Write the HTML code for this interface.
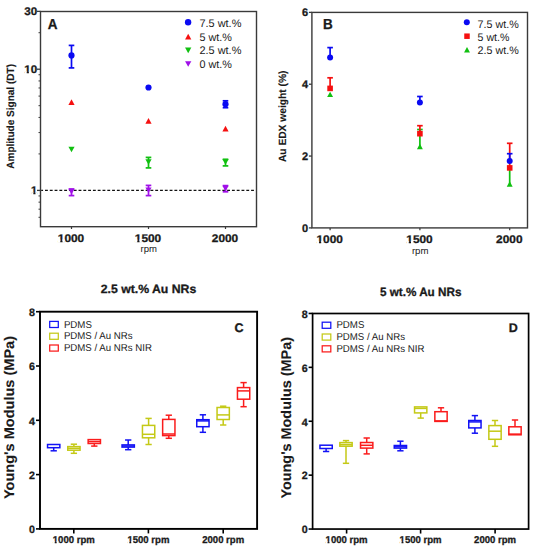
<!DOCTYPE html>
<html><head><meta charset="utf-8"><style>
html,body{margin:0;padding:0;background:#fff;}
svg{display:block;}
text{font-family:"Liberation Sans", sans-serif;text-rendering:geometricPrecision;}
</style></head><body>
<svg width="535" height="550" viewBox="0 0 535 550">
<rect width="535" height="550" fill="#fff"/>
<rect x="40.5" y="11.5" width="216.0" height="215.2" fill="none" stroke="#3a3a3a" stroke-width="1.4"/>
<line x1="37.0" y1="11.372903927976921" x2="40.5" y2="11.372903927976921" stroke="#3a3a3a" stroke-width="1.3" />
<text x="37.2" y="15.372903927976921" font-size="11" font-weight="bold" text-anchor="end" fill="#1a1a1a"  stroke="#1a1a1a" stroke-width="0.3" textLength="12.9" lengthAdjust="spacingAndGlyphs">30</text>
<line x1="37.0" y1="69.2" x2="40.5" y2="69.2" stroke="#3a3a3a" stroke-width="1.3" />
<text x="37.2" y="73.2" font-size="11" font-weight="bold" text-anchor="end" fill="#1a1a1a"  stroke="#1a1a1a" stroke-width="0.3" textLength="12.9" lengthAdjust="spacingAndGlyphs">10</text>
<line x1="37.0" y1="190.4" x2="40.5" y2="190.4" stroke="#3a3a3a" stroke-width="1.3" />
<text x="37.2" y="194.4" font-size="11" font-weight="bold" text-anchor="end" fill="#1a1a1a"  stroke="#1a1a1a" stroke-width="0.3">1</text>
<line x1="38.5" y1="217.2880684535024" x2="40.5" y2="217.2880684535024" stroke="#3a3a3a" stroke-width="1.0" />
<line x1="38.5" y1="209.1741175502721" x2="40.5" y2="209.1741175502721" stroke="#3a3a3a" stroke-width="1.0" />
<line x1="38.5" y1="202.14549357657643" x2="40.5" y2="202.14549357657643" stroke="#3a3a3a" stroke-width="1.0" />
<line x1="38.5" y1="195.94580785595383" x2="40.5" y2="195.94580785595383" stroke="#3a3a3a" stroke-width="1.0" />
<line x1="38.5" y1="153.91516452552548" x2="40.5" y2="153.91516452552548" stroke="#3a3a3a" stroke-width="1.0" />
<line x1="38.5" y1="132.5729039279769" x2="40.5" y2="132.5729039279769" stroke="#3a3a3a" stroke-width="1.0" />
<line x1="38.5" y1="117.43032905105096" x2="40.5" y2="117.43032905105096" stroke="#3a3a3a" stroke-width="1.0" />
<line x1="38.5" y1="105.68483547447453" x2="40.5" y2="105.68483547447453" stroke="#3a3a3a" stroke-width="1.0" />
<line x1="38.5" y1="96.0880684535024" x2="40.5" y2="96.0880684535024" stroke="#3a3a3a" stroke-width="1.0" />
<line x1="38.5" y1="87.97411755027208" x2="40.5" y2="87.97411755027208" stroke="#3a3a3a" stroke-width="1.0" />
<line x1="38.5" y1="80.94549357657645" x2="40.5" y2="80.94549357657645" stroke="#3a3a3a" stroke-width="1.0" />
<line x1="38.5" y1="74.74580785595383" x2="40.5" y2="74.74580785595383" stroke="#3a3a3a" stroke-width="1.0" />
<line x1="38.5" y1="32.715164525525466" x2="40.5" y2="32.715164525525466" stroke="#3a3a3a" stroke-width="1.0" />
<line x1="41.2" y1="190.4" x2="255.8" y2="190.4" stroke="#111" stroke-width="1.3" stroke-dasharray="2.85 1.943" stroke-dashoffset="0.99"/>
<line x1="71.5" y1="226.7" x2="71.5" y2="229.0" stroke="#3a3a3a" stroke-width="1.2" />
<text x="71.0" y="241.5" font-size="11" font-weight="bold" text-anchor="middle" fill="#1a1a1a"  stroke="#1a1a1a" stroke-width="0.3" textLength="26.4" lengthAdjust="spacingAndGlyphs">1000</text>
<line x1="148.5" y1="226.7" x2="148.5" y2="229.0" stroke="#3a3a3a" stroke-width="1.2" />
<text x="148.0" y="241.5" font-size="11" font-weight="bold" text-anchor="middle" fill="#1a1a1a"  stroke="#1a1a1a" stroke-width="0.3" textLength="26.4" lengthAdjust="spacingAndGlyphs">1500</text>
<line x1="225.5" y1="226.7" x2="225.5" y2="229.0" stroke="#3a3a3a" stroke-width="1.2" />
<text x="225.0" y="241.5" font-size="11" font-weight="bold" text-anchor="middle" fill="#1a1a1a"  stroke="#1a1a1a" stroke-width="0.3" textLength="26.4" lengthAdjust="spacingAndGlyphs">2000</text>
<text x="148.7" y="251.9" font-size="9.5" font-weight="normal" text-anchor="middle" fill="#222"  textLength="16.4" lengthAdjust="spacingAndGlyphs">rpm</text>
<text x="0" y="0" font-size="10.5" font-weight="bold" text-anchor="middle" fill="#1a1a1a" transform="translate(14.0,116.4) rotate(-90)" stroke="#1a1a1a" stroke-width="0.12" textLength="104.8" lengthAdjust="spacingAndGlyphs">Amplitude Signal (DT)</text>
<text x="47.8" y="29.1" font-size="14.5" font-weight="bold" text-anchor="start" fill="#1a1a1a"  stroke="#1a1a1a" stroke-width="0.3" textLength="9.75" lengthAdjust="spacingAndGlyphs">A</text>
<line x1="71.5" y1="189.0" x2="71.5" y2="195.6" stroke="#a010e8" stroke-width="1.7" />
<line x1="68.7" y1="189.0" x2="74.3" y2="189.0" stroke="#a010e8" stroke-width="1.7" />
<line x1="68.7" y1="195.6" x2="74.3" y2="195.6" stroke="#a010e8" stroke-width="1.7" />
<polygon points="68.4,188.81 74.6,188.81 71.5,194.39" fill="#a010e8"/>
<line x1="148.5" y1="185.4" x2="148.5" y2="195.6" stroke="#a010e8" stroke-width="1.7" />
<line x1="145.7" y1="185.4" x2="151.3" y2="185.4" stroke="#a010e8" stroke-width="1.7" />
<line x1="145.7" y1="195.6" x2="151.3" y2="195.6" stroke="#a010e8" stroke-width="1.7" />
<polygon points="145.4,187.41 151.6,187.41 148.5,192.98999999999998" fill="#a010e8"/>
<line x1="225.5" y1="185.6" x2="225.5" y2="191.8" stroke="#a010e8" stroke-width="1.7" />
<line x1="222.7" y1="185.6" x2="228.3" y2="185.6" stroke="#a010e8" stroke-width="1.7" />
<line x1="222.7" y1="191.8" x2="228.3" y2="191.8" stroke="#a010e8" stroke-width="1.7" />
<polygon points="222.4,185.81 228.6,185.81 225.5,191.39" fill="#a010e8"/>
<polygon points="68.4,146.71 74.6,146.71 71.5,152.29" fill="#10c010"/>
<line x1="148.5" y1="157.4" x2="148.5" y2="167.9" stroke="#10c010" stroke-width="1.7" />
<line x1="145.7" y1="157.4" x2="151.3" y2="157.4" stroke="#10c010" stroke-width="1.7" />
<line x1="145.7" y1="167.9" x2="151.3" y2="167.9" stroke="#10c010" stroke-width="1.7" />
<polygon points="145.4,159.21 151.6,159.21 148.5,164.79" fill="#10c010"/>
<line x1="225.5" y1="159.3" x2="225.5" y2="165.9" stroke="#10c010" stroke-width="1.7" />
<line x1="222.7" y1="159.3" x2="228.3" y2="159.3" stroke="#10c010" stroke-width="1.7" />
<line x1="222.7" y1="165.9" x2="228.3" y2="165.9" stroke="#10c010" stroke-width="1.7" />
<polygon points="222.4,159.21 228.6,159.21 225.5,164.79" fill="#10c010"/>
<polygon points="68.4,105.052 74.6,105.052 71.5,99.348" fill="#f51010"/>
<polygon points="145.4,123.75200000000001 151.6,123.75200000000001 148.5,118.048" fill="#f51010"/>
<polygon points="222.4,131.552 228.6,131.552 225.5,125.84799999999998" fill="#f51010"/>
<line x1="71.5" y1="45.4" x2="71.5" y2="67.9" stroke="#0a0af2" stroke-width="1.7" />
<line x1="68.7" y1="45.4" x2="74.3" y2="45.4" stroke="#0a0af2" stroke-width="1.7" />
<line x1="68.7" y1="67.9" x2="74.3" y2="67.9" stroke="#0a0af2" stroke-width="1.7" />
<circle cx="71.5" cy="55.4" r="3.1" fill="#0a0af2"/>
<circle cx="148.5" cy="87.5" r="3.1" fill="#0a0af2"/>
<line x1="225.5" y1="100.8" x2="225.5" y2="107.7" stroke="#0a0af2" stroke-width="1.7" />
<line x1="222.7" y1="100.8" x2="228.3" y2="100.8" stroke="#0a0af2" stroke-width="1.7" />
<line x1="222.7" y1="107.7" x2="228.3" y2="107.7" stroke="#0a0af2" stroke-width="1.7" />
<circle cx="225.5" cy="104.2" r="3.1" fill="#0a0af2"/>
<circle cx="188.1" cy="22.2" r="3.2" fill="#0a0af2"/>
<polygon points="185.04999999999998,39.498000000000005 191.35,39.498000000000005 188.2,33.702" fill="#f51010"/>
<polygon points="185.04999999999998,47.464999999999996 191.35,47.464999999999996 188.2,53.135" fill="#10c010"/>
<polygon points="185.04999999999998,61.165 191.35,61.165 188.2,66.835" fill="#a010e8"/>
<text x="199.4" y="27.3" font-size="11" font-weight="normal" text-anchor="start" fill="#1a1a1a"  textLength="42.0" lengthAdjust="spacingAndGlyphs">7.5 wt.%</text>
<text x="199.4" y="40.8" font-size="11" font-weight="normal" text-anchor="start" fill="#1a1a1a"  textLength="32.4" lengthAdjust="spacingAndGlyphs">5 wt.%</text>
<text x="199.4" y="54.3" font-size="11" font-weight="normal" text-anchor="start" fill="#1a1a1a"  textLength="42.0" lengthAdjust="spacingAndGlyphs">2.5 wt.%</text>
<text x="199.4" y="67.7" font-size="11" font-weight="normal" text-anchor="start" fill="#1a1a1a"  textLength="32.4" lengthAdjust="spacingAndGlyphs">0 wt.%</text>
<rect x="311.9" y="12.4" width="215.60000000000002" height="215.5" fill="none" stroke="#3a3a3a" stroke-width="1.4"/>
<line x1="308.9" y1="227.9" x2="311.9" y2="227.9" stroke="#3a3a3a" stroke-width="1.3" />
<text x="308.0" y="231.5" font-size="11" font-weight="bold" text-anchor="end" fill="#1a1a1a"  stroke="#1a1a1a" stroke-width="0.3">0</text>
<line x1="308.9" y1="156.06" x2="311.9" y2="156.06" stroke="#3a3a3a" stroke-width="1.3" />
<text x="308.0" y="159.66" font-size="11" font-weight="bold" text-anchor="end" fill="#1a1a1a"  stroke="#1a1a1a" stroke-width="0.3">2</text>
<line x1="308.9" y1="84.22" x2="311.9" y2="84.22" stroke="#3a3a3a" stroke-width="1.3" />
<text x="308.0" y="87.82" font-size="11" font-weight="bold" text-anchor="end" fill="#1a1a1a"  stroke="#1a1a1a" stroke-width="0.3">4</text>
<line x1="308.9" y1="12.379999999999995" x2="311.9" y2="12.379999999999995" stroke="#3a3a3a" stroke-width="1.3" />
<text x="308.0" y="15.979999999999995" font-size="11" font-weight="bold" text-anchor="end" fill="#1a1a1a"  stroke="#1a1a1a" stroke-width="0.3">6</text>
<line x1="330.1" y1="227.9" x2="330.1" y2="230.20000000000002" stroke="#3a3a3a" stroke-width="1.2" />
<text x="329.70000000000005" y="243.0" font-size="11" font-weight="bold" text-anchor="middle" fill="#1a1a1a"  stroke="#1a1a1a" stroke-width="0.3" textLength="26.4" lengthAdjust="spacingAndGlyphs">1000</text>
<line x1="419.9" y1="227.9" x2="419.9" y2="230.20000000000002" stroke="#3a3a3a" stroke-width="1.2" />
<text x="419.5" y="243.0" font-size="11" font-weight="bold" text-anchor="middle" fill="#1a1a1a"  stroke="#1a1a1a" stroke-width="0.3" textLength="26.4" lengthAdjust="spacingAndGlyphs">1500</text>
<line x1="509.7" y1="227.9" x2="509.7" y2="230.20000000000002" stroke="#3a3a3a" stroke-width="1.2" />
<text x="509.3" y="243.0" font-size="11" font-weight="bold" text-anchor="middle" fill="#1a1a1a"  stroke="#1a1a1a" stroke-width="0.3" textLength="26.4" lengthAdjust="spacingAndGlyphs">2000</text>
<text x="420.2" y="254.0" font-size="9.5" font-weight="normal" text-anchor="middle" fill="#222"  textLength="16.6" lengthAdjust="spacingAndGlyphs">rpm</text>
<text x="0" y="0" font-size="10.5" font-weight="bold" text-anchor="middle" fill="#1a1a1a" transform="translate(286.0,116.3) rotate(-90)" stroke="#1a1a1a" stroke-width="0.12" textLength="91.6" lengthAdjust="spacingAndGlyphs">Au EDX weight (%)</text>
<text x="323.0" y="28.9" font-size="14.5" font-weight="bold" text-anchor="start" fill="#1a1a1a"  stroke="#1a1a1a" stroke-width="0.3" textLength="9.75" lengthAdjust="spacingAndGlyphs">B</text>
<polygon points="327.15000000000003,97.114 333.05,97.114 330.1,91.686" fill="#10c010"/>
<line x1="419.9" y1="129.5" x2="419.9" y2="146.5" stroke="#10c010" stroke-width="1.7" />
<line x1="417.09999999999997" y1="129.5" x2="422.7" y2="129.5" stroke="#10c010" stroke-width="1.7" />
<polygon points="416.95,149.214 422.84999999999997,149.214 419.9,143.786" fill="#10c010"/>
<line x1="509.7" y1="166.0" x2="509.7" y2="184.0" stroke="#10c010" stroke-width="1.7" />
<polygon points="506.75,186.714 512.65,186.714 509.7,181.286" fill="#10c010"/>
<line x1="330.1" y1="77.8" x2="330.1" y2="88.4" stroke="#f51010" stroke-width="1.7" />
<line x1="327.3" y1="77.8" x2="332.90000000000003" y2="77.8" stroke="#f51010" stroke-width="1.7" />
<rect x="327.3" y="85.60000000000001" width="5.6" height="5.6" fill="#f51010"/>
<line x1="419.9" y1="125.7" x2="419.9" y2="133.7" stroke="#f51010" stroke-width="1.7" />
<line x1="417.09999999999997" y1="125.7" x2="422.7" y2="125.7" stroke="#f51010" stroke-width="1.7" />
<rect x="417.09999999999997" y="130.89999999999998" width="5.6" height="5.6" fill="#f51010"/>
<line x1="509.7" y1="143.3" x2="509.7" y2="167.9" stroke="#f51010" stroke-width="1.7" />
<line x1="506.9" y1="143.3" x2="512.5" y2="143.3" stroke="#f51010" stroke-width="1.7" />
<rect x="506.9" y="165.1" width="5.6" height="5.6" fill="#f51010"/>
<line x1="330.1" y1="47.6" x2="330.1" y2="57.5" stroke="#0a0af2" stroke-width="1.7" />
<line x1="327.3" y1="47.6" x2="332.90000000000003" y2="47.6" stroke="#0a0af2" stroke-width="1.7" />
<circle cx="330.1" cy="57.5" r="3.0" fill="#0a0af2"/>
<line x1="419.9" y1="96.5" x2="419.9" y2="102.6" stroke="#0a0af2" stroke-width="1.7" />
<line x1="417.09999999999997" y1="96.5" x2="422.7" y2="96.5" stroke="#0a0af2" stroke-width="1.7" />
<circle cx="419.9" cy="102.6" r="3.0" fill="#0a0af2"/>
<line x1="509.7" y1="153.7" x2="509.7" y2="161.1" stroke="#0a0af2" stroke-width="1.7" />
<line x1="506.9" y1="153.7" x2="512.5" y2="153.7" stroke="#0a0af2" stroke-width="1.7" />
<circle cx="509.7" cy="161.1" r="3.0" fill="#0a0af2"/>
<circle cx="466.8" cy="22.3" r="3.0" fill="#0a0af2"/>
<rect x="464.25" y="33.45" width="5.5" height="5.5" fill="#f51010"/>
<polygon points="464.05,52.414 469.95,52.414 467.0,46.986000000000004" fill="#10c010"/>
<text x="477.6" y="27.6" font-size="11" font-weight="normal" text-anchor="start" fill="#1a1a1a"  textLength="41.2" lengthAdjust="spacingAndGlyphs">7.5 wt.%</text>
<text x="477.6" y="41.0" font-size="11" font-weight="normal" text-anchor="start" fill="#1a1a1a"  textLength="31.8" lengthAdjust="spacingAndGlyphs">5 wt.%</text>
<text x="477.6" y="54.3" font-size="11" font-weight="normal" text-anchor="start" fill="#1a1a1a"  textLength="41.2" lengthAdjust="spacingAndGlyphs">2.5 wt.%</text>
<text x="148.5" y="292.5" font-size="12" font-weight="bold" text-anchor="middle" fill="#1a1a1a"  stroke="#1a1a1a" stroke-width="0.3" textLength="95.5" lengthAdjust="spacingAndGlyphs">2.5 wt.% Au NRs</text>
<text x="420.7" y="295.8" font-size="12" font-weight="bold" text-anchor="middle" fill="#1a1a1a"  stroke="#1a1a1a" stroke-width="0.3" textLength="81.5" lengthAdjust="spacingAndGlyphs">5 wt.% Au NRs</text>
<rect x="40.0" y="311.7" width="217.10000000000002" height="217.2" fill="none" stroke="#000000" stroke-width="1.9"/>
<line x1="36.0" y1="528.9" x2="40.0" y2="528.9" stroke="#000000" stroke-width="1.6" />
<text x="35.0" y="533.1999999999999" font-size="10.7" font-weight="bold" text-anchor="end" fill="#1a1a1a"  stroke="#1a1a1a" stroke-width="0.3">0</text>
<line x1="36.0" y1="474.59999999999997" x2="40.0" y2="474.59999999999997" stroke="#000000" stroke-width="1.6" />
<text x="35.0" y="478.9" font-size="10.7" font-weight="bold" text-anchor="end" fill="#1a1a1a"  stroke="#1a1a1a" stroke-width="0.3">2</text>
<line x1="36.0" y1="420.29999999999995" x2="40.0" y2="420.29999999999995" stroke="#000000" stroke-width="1.6" />
<text x="35.0" y="424.59999999999997" font-size="10.7" font-weight="bold" text-anchor="end" fill="#1a1a1a"  stroke="#1a1a1a" stroke-width="0.3">4</text>
<line x1="36.0" y1="366.0" x2="40.0" y2="366.0" stroke="#000000" stroke-width="1.6" />
<text x="35.0" y="370.3" font-size="10.7" font-weight="bold" text-anchor="end" fill="#1a1a1a"  stroke="#1a1a1a" stroke-width="0.3">6</text>
<line x1="36.0" y1="311.7" x2="40.0" y2="311.7" stroke="#000000" stroke-width="1.6" />
<text x="35.0" y="316.0" font-size="10.7" font-weight="bold" text-anchor="end" fill="#1a1a1a"  stroke="#1a1a1a" stroke-width="0.3">8</text>
<line x1="73.8" y1="528.9" x2="73.8" y2="533.4" stroke="#000000" stroke-width="1.6" />
<text x="73.8" y="543.0" font-size="9.9" font-weight="bold" text-anchor="middle" fill="#1a1a1a"  stroke="#1a1a1a" stroke-width="0.3" textLength="42.0" lengthAdjust="spacingAndGlyphs">1000 rpm</text>
<line x1="148.4" y1="528.9" x2="148.4" y2="533.4" stroke="#000000" stroke-width="1.6" />
<text x="148.4" y="543.0" font-size="9.9" font-weight="bold" text-anchor="middle" fill="#1a1a1a"  stroke="#1a1a1a" stroke-width="0.3" textLength="42.0" lengthAdjust="spacingAndGlyphs">1500 rpm</text>
<line x1="223.2" y1="528.9" x2="223.2" y2="533.4" stroke="#000000" stroke-width="1.6" />
<text x="223.2" y="543.0" font-size="9.9" font-weight="bold" text-anchor="middle" fill="#1a1a1a"  stroke="#1a1a1a" stroke-width="0.3" textLength="42.0" lengthAdjust="spacingAndGlyphs">2000 rpm</text>
<text x="234.6" y="331.6" font-size="12.5" font-weight="bold" text-anchor="start" fill="#1a1a1a"  stroke="#1a1a1a" stroke-width="0.3">C</text>
<line x1="53.7" y1="447.7" x2="53.7" y2="450.79999999999995" stroke="#1212f5" stroke-width="1.5" />
<line x1="50.550000000000004" y1="450.79999999999995" x2="56.85" y2="450.79999999999995" stroke="#1212f5" stroke-width="1.5" />
<rect x="47.550000000000004" y="444.5" width="12.3" height="3.1999999999999886" fill="none" stroke="#1212f5" stroke-width="1.5"/>
<line x1="73.9" y1="444.2" x2="73.9" y2="446.6" stroke="#c4c916" stroke-width="1.5" />
<line x1="70.75" y1="444.2" x2="77.05000000000001" y2="444.2" stroke="#c4c916" stroke-width="1.5" />
<line x1="73.9" y1="450.2" x2="73.9" y2="453.29999999999995" stroke="#c4c916" stroke-width="1.5" />
<line x1="70.75" y1="453.29999999999995" x2="77.05000000000001" y2="453.29999999999995" stroke="#c4c916" stroke-width="1.5" />
<rect x="67.75" y="446.6" width="12.3" height="3.599999999999966" fill="none" stroke="#c4c916" stroke-width="1.5"/>
<line x1="67.75" y1="448.3" x2="80.05000000000001" y2="448.3" stroke="#c4c916" stroke-width="1.5" />
<line x1="94.3" y1="443.5" x2="94.3" y2="446.09999999999997" stroke="#fa1c1c" stroke-width="1.5" />
<line x1="91.14999999999999" y1="446.09999999999997" x2="97.45" y2="446.09999999999997" stroke="#fa1c1c" stroke-width="1.5" />
<rect x="88.14999999999999" y="439.6" width="12.3" height="3.8999999999999773" fill="none" stroke="#fa1c1c" stroke-width="1.5"/>
<line x1="88.14999999999999" y1="441.6" x2="100.45" y2="441.6" stroke="#fa1c1c" stroke-width="1.5" />
<line x1="128.2" y1="440.0" x2="128.2" y2="444.9" stroke="#1212f5" stroke-width="1.5" />
<line x1="125.04999999999998" y1="440.0" x2="131.35" y2="440.0" stroke="#1212f5" stroke-width="1.5" />
<line x1="128.2" y1="447.1" x2="128.2" y2="449.7" stroke="#1212f5" stroke-width="1.5" />
<line x1="125.04999999999998" y1="449.7" x2="131.35" y2="449.7" stroke="#1212f5" stroke-width="1.5" />
<rect x="122.04999999999998" y="444.9" width="12.3" height="2.2000000000000455" fill="none" stroke="#1212f5" stroke-width="1.5"/>
<line x1="122.04999999999998" y1="446.0" x2="134.35" y2="446.0" stroke="#1212f5" stroke-width="1.5" />
<line x1="148.6" y1="418.4" x2="148.6" y2="425.4" stroke="#c4c916" stroke-width="1.5" />
<line x1="145.45" y1="418.4" x2="151.75" y2="418.4" stroke="#c4c916" stroke-width="1.5" />
<line x1="148.6" y1="437.8" x2="148.6" y2="444.5" stroke="#c4c916" stroke-width="1.5" />
<line x1="145.45" y1="444.5" x2="151.75" y2="444.5" stroke="#c4c916" stroke-width="1.5" />
<rect x="142.45" y="425.4" width="12.3" height="12.400000000000034" fill="none" stroke="#c4c916" stroke-width="1.5"/>
<line x1="142.45" y1="434.3" x2="154.75" y2="434.3" stroke="#c4c916" stroke-width="1.5" />
<line x1="168.8" y1="415.2" x2="168.8" y2="419.4" stroke="#fa1c1c" stroke-width="1.5" />
<line x1="165.65" y1="415.2" x2="171.95000000000002" y2="415.2" stroke="#fa1c1c" stroke-width="1.5" />
<line x1="168.8" y1="435.6" x2="168.8" y2="438.29999999999995" stroke="#fa1c1c" stroke-width="1.5" />
<line x1="165.65" y1="438.29999999999995" x2="171.95000000000002" y2="438.29999999999995" stroke="#fa1c1c" stroke-width="1.5" />
<rect x="162.65" y="419.4" width="12.3" height="16.200000000000045" fill="none" stroke="#fa1c1c" stroke-width="1.5"/>
<line x1="162.65" y1="434.0" x2="174.95000000000002" y2="434.0" stroke="#fa1c1c" stroke-width="1.5" />
<line x1="202.9" y1="414.8" x2="202.9" y2="419.7" stroke="#1212f5" stroke-width="1.5" />
<line x1="199.75" y1="414.8" x2="206.05" y2="414.8" stroke="#1212f5" stroke-width="1.5" />
<line x1="202.9" y1="426.7" x2="202.9" y2="432.29999999999995" stroke="#1212f5" stroke-width="1.5" />
<line x1="199.75" y1="432.29999999999995" x2="206.05" y2="432.29999999999995" stroke="#1212f5" stroke-width="1.5" />
<rect x="196.75" y="419.7" width="12.3" height="7.0" fill="none" stroke="#1212f5" stroke-width="1.5"/>
<line x1="196.75" y1="420.9" x2="209.05" y2="420.9" stroke="#1212f5" stroke-width="1.5" />
<line x1="223.2" y1="406.2" x2="223.2" y2="407.5" stroke="#c4c916" stroke-width="1.5" />
<line x1="220.04999999999998" y1="406.2" x2="226.35" y2="406.2" stroke="#c4c916" stroke-width="1.5" />
<line x1="223.2" y1="419.5" x2="223.2" y2="425.0" stroke="#c4c916" stroke-width="1.5" />
<line x1="220.04999999999998" y1="425.0" x2="226.35" y2="425.0" stroke="#c4c916" stroke-width="1.5" />
<rect x="217.04999999999998" y="407.5" width="12.3" height="12.0" fill="none" stroke="#c4c916" stroke-width="1.5"/>
<line x1="217.04999999999998" y1="414.9" x2="229.35" y2="414.9" stroke="#c4c916" stroke-width="1.5" />
<line x1="243.6" y1="382.6" x2="243.6" y2="387.6" stroke="#fa1c1c" stroke-width="1.5" />
<line x1="240.45" y1="382.6" x2="246.75" y2="382.6" stroke="#fa1c1c" stroke-width="1.5" />
<line x1="243.6" y1="399.2" x2="243.6" y2="406.7" stroke="#fa1c1c" stroke-width="1.5" />
<line x1="240.45" y1="406.7" x2="246.75" y2="406.7" stroke="#fa1c1c" stroke-width="1.5" />
<rect x="237.45" y="387.6" width="12.3" height="11.599999999999966" fill="none" stroke="#fa1c1c" stroke-width="1.5"/>
<line x1="237.45" y1="390.9" x2="249.75" y2="390.9" stroke="#fa1c1c" stroke-width="1.5" />
<rect x="49.7" y="321.40000000000003" width="8.6" height="6.1" fill="none" stroke="#1212f5" stroke-width="1.25"/>
<text x="63.900000000000006" y="327.6" font-size="10" font-weight="normal" text-anchor="start" fill="#1a1a1a"  textLength="28.0" lengthAdjust="spacingAndGlyphs">PDMS</text>
<rect x="49.7" y="333.20000000000005" width="8.6" height="6.1" fill="none" stroke="#c4c916" stroke-width="1.25"/>
<text x="63.900000000000006" y="339.40000000000003" font-size="10" font-weight="normal" text-anchor="start" fill="#1a1a1a"  textLength="68.6" lengthAdjust="spacingAndGlyphs">PDMS / Au NRs</text>
<rect x="49.7" y="345.00000000000006" width="8.6" height="6.1" fill="none" stroke="#fa1c1c" stroke-width="1.25"/>
<text x="63.900000000000006" y="351.20000000000005" font-size="10" font-weight="normal" text-anchor="start" fill="#1a1a1a"  textLength="88.0" lengthAdjust="spacingAndGlyphs">PDMS / Au NRs NIR</text>
<text x="0" y="0" font-size="14" font-weight="bold" text-anchor="middle" fill="#1a1a1a" transform="translate(14.25,417.5) rotate(-90)" stroke="#1a1a1a" stroke-width="0.12" textLength="163.0" lengthAdjust="spacingAndGlyphs">Young's Modulus (MPa)</text>
<rect x="312.6" y="313.5" width="216.0" height="215.54999999999995" fill="none" stroke="#000000" stroke-width="1.7"/>
<line x1="308.6" y1="529.05" x2="312.6" y2="529.05" stroke="#000000" stroke-width="1.6" />
<text x="307.6" y="533.3499999999999" font-size="10.7" font-weight="bold" text-anchor="end" fill="#1a1a1a"  stroke="#1a1a1a" stroke-width="0.3">0</text>
<line x1="308.6" y1="475.15" x2="312.6" y2="475.15" stroke="#000000" stroke-width="1.6" />
<text x="307.6" y="479.45" font-size="10.7" font-weight="bold" text-anchor="end" fill="#1a1a1a"  stroke="#1a1a1a" stroke-width="0.3">2</text>
<line x1="308.6" y1="421.24999999999994" x2="312.6" y2="421.24999999999994" stroke="#000000" stroke-width="1.6" />
<text x="307.6" y="425.54999999999995" font-size="10.7" font-weight="bold" text-anchor="end" fill="#1a1a1a"  stroke="#1a1a1a" stroke-width="0.3">4</text>
<line x1="308.6" y1="367.34999999999997" x2="312.6" y2="367.34999999999997" stroke="#000000" stroke-width="1.6" />
<text x="307.6" y="371.65" font-size="10.7" font-weight="bold" text-anchor="end" fill="#1a1a1a"  stroke="#1a1a1a" stroke-width="0.3">6</text>
<line x1="308.6" y1="313.44999999999993" x2="312.6" y2="313.44999999999993" stroke="#000000" stroke-width="1.6" />
<text x="307.6" y="317.74999999999994" font-size="10.7" font-weight="bold" text-anchor="end" fill="#1a1a1a"  stroke="#1a1a1a" stroke-width="0.3">8</text>
<line x1="346.6" y1="529.05" x2="346.6" y2="533.55" stroke="#000000" stroke-width="1.6" />
<text x="346.6" y="543.0" font-size="9.9" font-weight="bold" text-anchor="middle" fill="#1a1a1a"  stroke="#1a1a1a" stroke-width="0.3" textLength="42.0" lengthAdjust="spacingAndGlyphs">1000 rpm</text>
<line x1="420.6" y1="529.05" x2="420.6" y2="533.55" stroke="#000000" stroke-width="1.6" />
<text x="420.6" y="543.0" font-size="9.9" font-weight="bold" text-anchor="middle" fill="#1a1a1a"  stroke="#1a1a1a" stroke-width="0.3" textLength="42.0" lengthAdjust="spacingAndGlyphs">1500 rpm</text>
<line x1="495.1" y1="529.05" x2="495.1" y2="533.55" stroke="#000000" stroke-width="1.6" />
<text x="495.1" y="543.0" font-size="9.9" font-weight="bold" text-anchor="middle" fill="#1a1a1a"  stroke="#1a1a1a" stroke-width="0.3" textLength="42.0" lengthAdjust="spacingAndGlyphs">2000 rpm</text>
<text x="508.8" y="332.0" font-size="12.5" font-weight="bold" text-anchor="start" fill="#1a1a1a"  stroke="#1a1a1a" stroke-width="0.3">D</text>
<line x1="326.1" y1="448.5" x2="326.1" y2="451.5" stroke="#1212f5" stroke-width="1.5" />
<line x1="322.95000000000005" y1="451.5" x2="329.25" y2="451.5" stroke="#1212f5" stroke-width="1.5" />
<rect x="319.95000000000005" y="445.2" width="12.3" height="3.3000000000000114" fill="none" stroke="#1212f5" stroke-width="1.5"/>
<line x1="346.0" y1="440.6" x2="346.0" y2="442.6" stroke="#c4c916" stroke-width="1.5" />
<line x1="342.85" y1="440.6" x2="349.15" y2="440.6" stroke="#c4c916" stroke-width="1.5" />
<line x1="346.0" y1="446.2" x2="346.0" y2="463.29999999999995" stroke="#c4c916" stroke-width="1.5" />
<line x1="342.85" y1="463.29999999999995" x2="349.15" y2="463.29999999999995" stroke="#c4c916" stroke-width="1.5" />
<rect x="339.85" y="442.6" width="12.3" height="3.599999999999966" fill="none" stroke="#c4c916" stroke-width="1.5"/>
<line x1="339.85" y1="444.6" x2="352.15" y2="444.6" stroke="#c4c916" stroke-width="1.5" />
<line x1="366.7" y1="438.0" x2="366.7" y2="442.5" stroke="#fa1c1c" stroke-width="1.5" />
<line x1="363.55" y1="438.0" x2="369.84999999999997" y2="438.0" stroke="#fa1c1c" stroke-width="1.5" />
<line x1="366.7" y1="448.1" x2="366.7" y2="453.9" stroke="#fa1c1c" stroke-width="1.5" />
<line x1="363.55" y1="453.9" x2="369.84999999999997" y2="453.9" stroke="#fa1c1c" stroke-width="1.5" />
<rect x="360.55" y="442.5" width="12.3" height="5.600000000000023" fill="none" stroke="#fa1c1c" stroke-width="1.5"/>
<line x1="360.55" y1="445.3" x2="372.84999999999997" y2="445.3" stroke="#fa1c1c" stroke-width="1.5" />
<line x1="400.4" y1="441.2" x2="400.4" y2="445.5" stroke="#1212f5" stroke-width="1.5" />
<line x1="397.25" y1="441.2" x2="403.54999999999995" y2="441.2" stroke="#1212f5" stroke-width="1.5" />
<line x1="400.4" y1="448.1" x2="400.4" y2="450.79999999999995" stroke="#1212f5" stroke-width="1.5" />
<line x1="397.25" y1="450.79999999999995" x2="403.54999999999995" y2="450.79999999999995" stroke="#1212f5" stroke-width="1.5" />
<rect x="394.25" y="445.5" width="12.3" height="2.6000000000000227" fill="none" stroke="#1212f5" stroke-width="1.5"/>
<line x1="394.25" y1="446.8" x2="406.54999999999995" y2="446.8" stroke="#1212f5" stroke-width="1.5" />
<line x1="420.7" y1="412.9" x2="420.7" y2="418.09999999999997" stroke="#c4c916" stroke-width="1.5" />
<line x1="417.55" y1="418.09999999999997" x2="423.84999999999997" y2="418.09999999999997" stroke="#c4c916" stroke-width="1.5" />
<rect x="414.55" y="406.9" width="12.3" height="6.0" fill="none" stroke="#c4c916" stroke-width="1.5"/>
<line x1="414.55" y1="408.4" x2="426.84999999999997" y2="408.4" stroke="#c4c916" stroke-width="1.5" />
<line x1="441.0" y1="407.8" x2="441.0" y2="411.7" stroke="#fa1c1c" stroke-width="1.5" />
<line x1="437.85" y1="407.8" x2="444.15" y2="407.8" stroke="#fa1c1c" stroke-width="1.5" />
<rect x="434.85" y="411.7" width="12.3" height="9.699999999999989" fill="none" stroke="#fa1c1c" stroke-width="1.5"/>
<line x1="434.85" y1="420.9" x2="447.15" y2="420.9" stroke="#fa1c1c" stroke-width="1.5" />
<line x1="474.9" y1="415.6" x2="474.9" y2="420.5" stroke="#1212f5" stroke-width="1.5" />
<line x1="471.75" y1="415.6" x2="478.04999999999995" y2="415.6" stroke="#1212f5" stroke-width="1.5" />
<line x1="474.9" y1="427.9" x2="474.9" y2="433.2" stroke="#1212f5" stroke-width="1.5" />
<line x1="471.75" y1="433.2" x2="478.04999999999995" y2="433.2" stroke="#1212f5" stroke-width="1.5" />
<rect x="468.75" y="420.5" width="12.3" height="7.399999999999977" fill="none" stroke="#1212f5" stroke-width="1.5"/>
<line x1="468.75" y1="421.9" x2="481.04999999999995" y2="421.9" stroke="#1212f5" stroke-width="1.5" />
<line x1="495.0" y1="420.5" x2="495.0" y2="425.6" stroke="#c4c916" stroke-width="1.5" />
<line x1="491.85" y1="420.5" x2="498.15" y2="420.5" stroke="#c4c916" stroke-width="1.5" />
<line x1="495.0" y1="439.3" x2="495.0" y2="446.29999999999995" stroke="#c4c916" stroke-width="1.5" />
<line x1="491.85" y1="446.29999999999995" x2="498.15" y2="446.29999999999995" stroke="#c4c916" stroke-width="1.5" />
<rect x="488.85" y="425.6" width="12.3" height="13.699999999999989" fill="none" stroke="#c4c916" stroke-width="1.5"/>
<line x1="488.85" y1="431.2" x2="501.15" y2="431.2" stroke="#c4c916" stroke-width="1.5" />
<line x1="515.0" y1="420.0" x2="515.0" y2="426.8" stroke="#fa1c1c" stroke-width="1.5" />
<line x1="511.85" y1="420.0" x2="518.15" y2="420.0" stroke="#fa1c1c" stroke-width="1.5" />
<rect x="508.85" y="426.8" width="12.3" height="8.0" fill="none" stroke="#fa1c1c" stroke-width="1.5"/>
<line x1="508.85" y1="434.1" x2="521.15" y2="434.1" stroke="#fa1c1c" stroke-width="1.5" />
<rect x="322.2" y="322.20000000000005" width="8.6" height="6.1" fill="none" stroke="#1212f5" stroke-width="1.25"/>
<text x="336.4" y="328.40000000000003" font-size="10" font-weight="normal" text-anchor="start" fill="#1a1a1a"  textLength="28.0" lengthAdjust="spacingAndGlyphs">PDMS</text>
<rect x="322.2" y="334.00000000000006" width="8.6" height="6.1" fill="none" stroke="#c4c916" stroke-width="1.25"/>
<text x="336.4" y="340.20000000000005" font-size="10" font-weight="normal" text-anchor="start" fill="#1a1a1a"  textLength="68.6" lengthAdjust="spacingAndGlyphs">PDMS / Au NRs</text>
<rect x="322.2" y="345.80000000000007" width="8.6" height="6.1" fill="none" stroke="#fa1c1c" stroke-width="1.25"/>
<text x="336.4" y="352.00000000000006" font-size="10" font-weight="normal" text-anchor="start" fill="#1a1a1a"  textLength="88.0" lengthAdjust="spacingAndGlyphs">PDMS / Au NRs NIR</text>
<text x="0" y="0" font-size="14" font-weight="bold" text-anchor="middle" fill="#1a1a1a" transform="translate(291.1,417.8) rotate(-90)" stroke="#1a1a1a" stroke-width="0.12" textLength="161.5" lengthAdjust="spacingAndGlyphs">Young's Modulus (MPa)</text>
<rect x="24.43" y="71.18" width="2.28" height="3.32" fill="#fff"/>
<rect x="28.90" y="71.18" width="2.13" height="3.32" fill="#fff"/>
<rect x="31.17" y="192.38" width="2.18" height="3.32" fill="#fff"/>
<rect x="35.46" y="192.38" width="2.04" height="3.32" fill="#fff"/>
<rect x="57.95" y="239.48" width="2.32" height="3.32" fill="#fff"/>
<rect x="62.50" y="239.48" width="2.17" height="3.32" fill="#fff"/>
<rect x="134.95" y="239.48" width="2.32" height="3.32" fill="#fff"/>
<rect x="139.50" y="239.48" width="2.17" height="3.32" fill="#fff"/>
<rect x="316.65" y="240.98" width="2.32" height="3.32" fill="#fff"/>
<rect x="321.20" y="240.98" width="2.17" height="3.32" fill="#fff"/>
<rect x="406.45" y="240.98" width="2.32" height="3.32" fill="#fff"/>
<rect x="411.00" y="240.98" width="2.17" height="3.32" fill="#fff"/>
<rect x="52.80" y="541.09" width="1.93" height="3.21" fill="#fff"/>
<rect x="56.65" y="541.09" width="1.81" height="3.21" fill="#fff"/>
<rect x="127.40" y="541.09" width="1.93" height="3.21" fill="#fff"/>
<rect x="131.25" y="541.09" width="1.81" height="3.21" fill="#fff"/>
<rect x="325.60" y="541.09" width="1.93" height="3.21" fill="#fff"/>
<rect x="329.45" y="541.09" width="1.81" height="3.21" fill="#fff"/>
<rect x="399.60" y="541.09" width="1.93" height="3.21" fill="#fff"/>
<rect x="403.45" y="541.09" width="1.81" height="3.21" fill="#fff"/>
</svg>
</body></html>
